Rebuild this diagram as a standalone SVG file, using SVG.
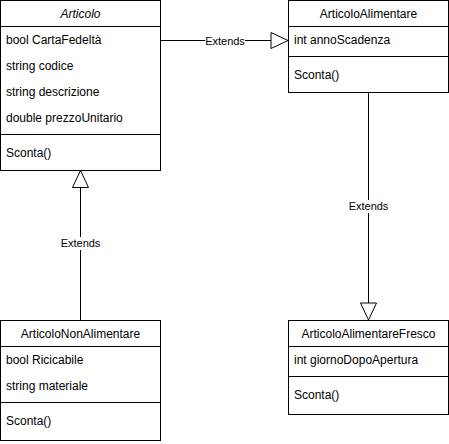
<svg xmlns="http://www.w3.org/2000/svg" width="449" height="444" viewBox="0 0 449 444">
<style>
.box{fill:#fff;stroke:#000;stroke-width:1}
.ln{stroke:#000;stroke-width:1;fill:none}
.t{font-family:"Liberation Sans",Arial,sans-serif;font-size:12px;fill:#000}
.c{text-anchor:middle}
.i{font-style:italic}
.lbl{font-family:"Liberation Sans",Arial,sans-serif;font-size:11px;fill:#000;text-anchor:middle}
.lb{fill:#fff}
</style>
<defs>
<marker id="tri" viewBox="0 0 20 18" refX="18" refY="9" markerWidth="20" markerHeight="18" markerUnits="userSpaceOnUse" orient="auto">
<path d="M1,1 L18,9 L1,17 Z" fill="#fff" stroke="#000" stroke-width="1"/>
</marker>
</defs>
<g id="connectors">
<line class="ln" x1="160.5" y1="40.5" x2="288" y2="40.5" marker-end="url(#tri)"/>
<rect class="lb" x="205" y="34" width="40" height="13"/>
<text class="lbl" x="225" y="44.5">Extends</text>
<line class="ln" x1="368.5" y1="92" x2="368.5" y2="320" marker-end="url(#tri)"/>
<rect class="lb" x="348" y="200" width="41" height="13"/>
<text class="lbl" x="368.5" y="210">Extends</text>
<line class="ln" x1="80.5" y1="320" x2="80.5" y2="170.5" marker-end="url(#tri)"/>
<rect class="lb" x="60" y="237" width="41" height="13"/>
<text class="lbl" x="80.5" y="247">Extends</text>
</g>
<g id="Articolo">
<rect class="box" x="0.5" y="0.5" width="160" height="170"/>
<line class="ln" x1="0.5" y1="26.5" x2="160.5" y2="26.5"/>
<line class="ln" x1="0.5" y1="134.5" x2="160.5" y2="134.5"/>
<text class="t c i" x="80.5" y="18">Articolo</text>
<text class="t" x="6" y="44">bool CartaFedeltà</text>
<text class="t" x="6" y="70">string codice</text>
<text class="t" x="6" y="96">string descrizione</text>
<text class="t" x="6" y="122">double prezzoUnitario</text>
<text class="t" x="6" y="157">Sconta()</text>
</g>
<g id="ArticoloAlimentare">
<rect class="box" x="288.5" y="0.5" width="160" height="92"/>
<line class="ln" x1="288.5" y1="26.5" x2="448.5" y2="26.5"/>
<line class="ln" x1="288.5" y1="56.5" x2="448.5" y2="56.5"/>
<text class="t c" x="368.5" y="18">ArticoloAlimentare</text>
<text class="t" x="294" y="44">int annoScadenza</text>
<text class="t" x="294" y="79">Sconta()</text>
</g>
<g id="ArticoloNonAlimentare">
<rect class="box" x="0.5" y="320.5" width="160" height="120"/>
<line class="ln" x1="0.5" y1="346.5" x2="160.5" y2="346.5"/>
<line class="ln" x1="0.5" y1="402.5" x2="160.5" y2="402.5"/>
<text class="t c" x="80.5" y="338">ArticoloNonAlimentare</text>
<text class="t" x="6" y="364">bool Ricicabile</text>
<text class="t" x="6" y="390">string materiale</text>
<text class="t" x="6" y="425">Sconta()</text>
</g>
<g id="ArticoloAlimentareFresco">
<rect class="box" x="288.5" y="320.5" width="160" height="94"/>
<line class="ln" x1="288.5" y1="346.5" x2="448.5" y2="346.5"/>
<line class="ln" x1="288.5" y1="376.5" x2="448.5" y2="376.5"/>
<text class="t c" x="368.5" y="338">ArticoloAlimentareFresco</text>
<text class="t" x="294" y="364">int giornoDopoApertura</text>
<text class="t" x="294" y="399">Sconta()</text>
</g>
</svg>
